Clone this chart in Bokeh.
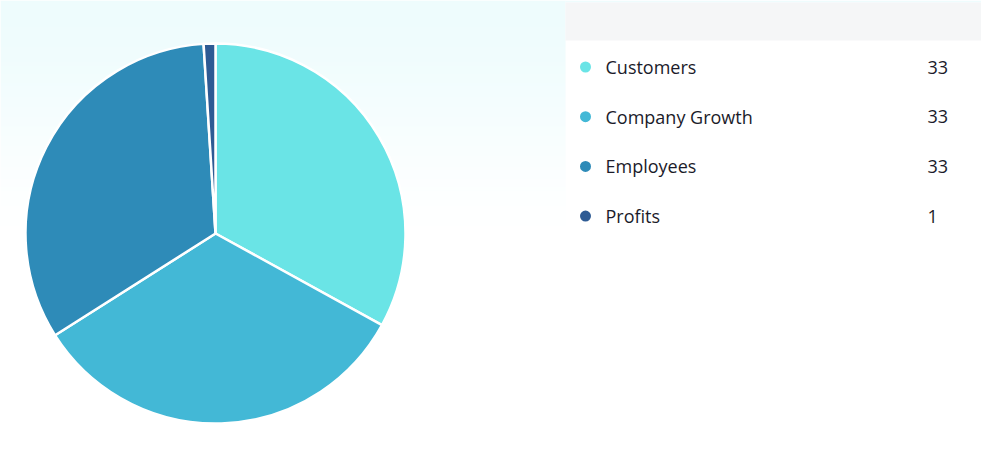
import numpy as np
from bokeh.plotting import figure
from bokeh.models import Range1d
from bokeh.core.properties import value
from bokeh.embed import file_html
from bokeh.resources import INLINE

# ---- data ----
categories = ["Customers", "Company Growth", "Employees", "Profits"]
values = [33, 33, 33, 1]
colors = ["#6ae4e6", "#43b8d6", "#2e8bb8", "#2e5b94"]

W, H = 981, 456
p = figure(width=W, height=H, output_backend="svg", toolbar_location=None,
           x_range=Range1d(0, W), y_range=Range1d(0, H), min_border=0)
p.axis.visible = False
p.grid.visible = False
p.outline_line_color = None
p.background_fill_color = "white"
p.border_fill_color = "white"

# background gradient (left panel)
gw, gh = 565, H
img = np.zeros((gh, 1), dtype=np.uint32)
view = img.view(dtype=np.uint8).reshape((gh, 1, 4))
top = np.array([238, 252, 253], dtype=float)
for r in range(gh):
    ypix = gh - 1 - r  # pixel from top
    t = min(ypix / 250.0, 1.0)
    t = t * t * (3 - 2 * t)
    c = top * (1 - t) + np.array([255, 255, 255]) * t
    view[r, 0, 0:3] = np.round(c).astype(np.uint8)
    view[r, 0, 3] = 255
p.image_rgba(image=[img], x=0, y=0, dw=gw, dh=gh)
# thin top strip over legend side
p.quad(left=565, right=W, bottom=H - 2, top=H, fill_color="#eefcfd", line_color=None)
# legend header bar
p.quad(left=565, right=W, bottom=H - 40, top=H - 2, fill_color="#f5f6f7", line_color=None)

# pie
total = float(sum(values))
cum = np.cumsum([0] + values) / total * 2 * np.pi
starts = [np.pi / 2 - a for a in cum[:-1]]
ends = [np.pi / 2 - a for a in cum[1:]]
cx, cy, rad = 215, H - 233, 190
p.wedge(x=cx, y=cy, radius=rad, start_angle=starts, end_angle=ends,
        direction="clock", fill_color=colors, line_color="white",
        line_width=2.5, line_join="round")

# legend
row_y = [H - 66.5 - 49.7 * i for i in range(len(categories))]
p.scatter(x=[585] * len(categories), y=row_y, size=11, fill_color=colors,
          line_color=None)
p.text(x=[605] * len(categories), y=row_y, text=categories,
       text_font=value("Open Sans"), text_font_size="18px",
       text_color="#1b1b2a", text_baseline="middle", text_align="left")
p.text(x=[927] * len(categories), y=row_y, text=[str(v) for v in values],
       text_font=value("Open Sans"), text_font_size="18px",
       text_color="#1b1b2a", text_baseline="middle", text_align="left")

open("out.html", "w").write(file_html(p, INLINE))
